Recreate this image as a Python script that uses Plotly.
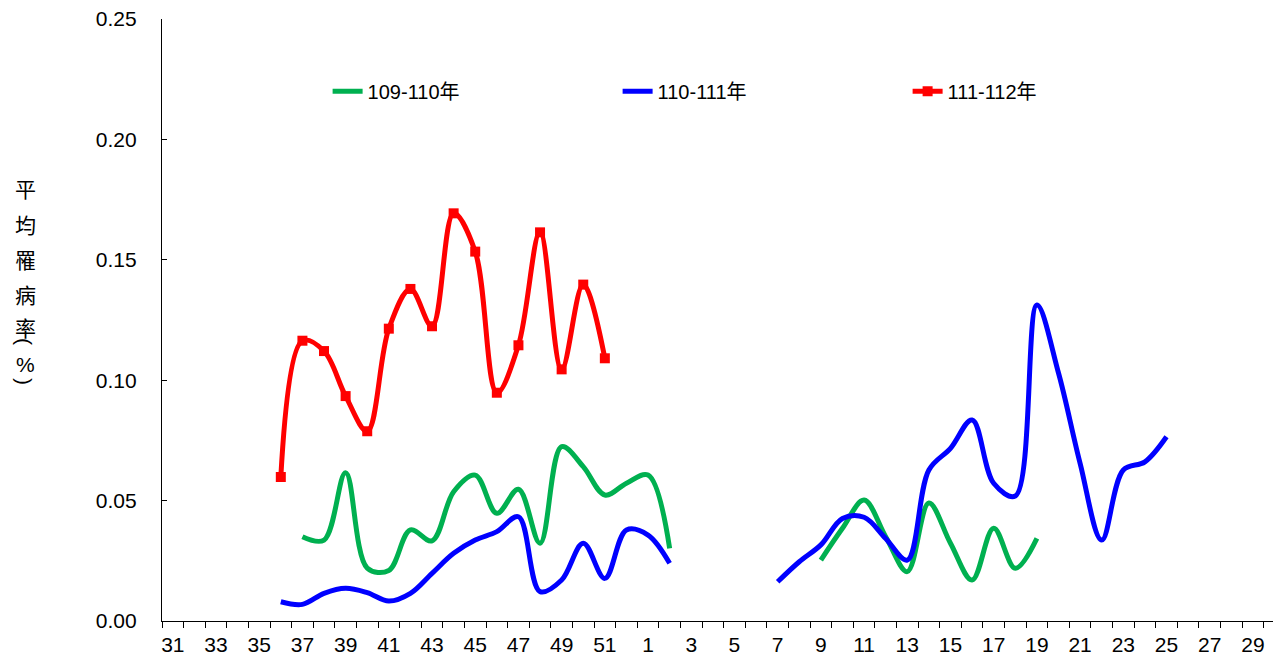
import plotly.graph_objects as go

# Week categories (x axis), from week 31 through week 52, then week 1 through 30
weeks = ["31", "32", "33", "34", "35", "36", "37", "38", "39", "40", "41", "42",
         "43", "44", "45", "46", "47", "48", "49", "50", "51", "52",
         "1", "2", "3", "4", "5", "6", "7", "8", "9", "10", "11", "12", "13",
         "14", "15", "16", "17", "18", "19", "20", "21", "22", "23", "24", "25",
         "26", "27", "28", "29", "30"]

N = None
# 109-110年 (green)
s109 = [N, N, N, N, N, N, 0.035, 0.0336, 0.0616, 0.022, 0.021, 0.0378,
        0.0333, 0.0537, 0.0606, 0.0447, 0.0547, 0.0323, 0.0724, 0.0641, 0.0523, 0.0572,
        0.0606, 0.0302, N, N, N, N, N, N, 0.0253, 0.0385, 0.0502, 0.035, 0.0205,
        0.049, 0.0323, 0.017, 0.0385, 0.0219, 0.0343, N, N, N, N, N, N,
        N, N, N, N, N]
# 110-111年 (blue)
s110 = [N, N, N, N, N, 0.008, 0.0069, 0.0115, 0.0136, 0.0118, 0.0083, 0.0115,
        0.0198, 0.0281, 0.0336, 0.0371, 0.0433, 0.0122, 0.017, 0.0323, 0.0177, 0.0378,
        0.0357, 0.024, N, N, N, N, 0.0163, 0.0246, 0.0316, 0.0426, 0.0431, 0.0343, 0.0253,
        0.0627, 0.0717, 0.0835, 0.0572, 0.0519, 0.1312, 0.103, 0.0655, 0.0336, 0.0627, 0.0661, 0.0765,
        N, N, N, N, N]
# 111-112年 (red)
s111 = [N, N, N, N, N, 0.0598, 0.1164, 0.1121, 0.0934, 0.0788, 0.1214, 0.1379,
        0.1224, 0.1693, 0.1534, 0.0948, 0.1145, 0.1614, 0.1045, 0.1397, 0.1091, N,
        N, N, N, N, N, N, N, N, N, N, N, N, N,
        N, N, N, N, N, N, N, N, N, N, N, N,
        N, N, N, N, N]

names = ["109-110年", "110-111年", "111-112年"]
y_ticks = [0, 0.05, 0.10, 0.15, 0.20, 0.25]
ytitle_chars = ["平", "均", "罹", "病", "率", "(", "%", ")"]

x = list(range(len(weeks)))
FONT = "Liberation Sans, Arial, Noto Sans CJK TC, sans-serif"
CJK = "Noto Sans CJK TC, Noto Sans CJK SC, sans-serif"

fig = go.Figure()
fig.add_trace(go.Scatter(x=x, y=s109, name=names[0], mode="lines",
                         line=dict(color="#00B050", width=5, shape="spline", smoothing=1.0),
                         connectgaps=False))
fig.add_trace(go.Scatter(x=x, y=s110, name=names[1], mode="lines",
                         line=dict(color="#0000FF", width=5, shape="spline", smoothing=1.0),
                         connectgaps=False))
fig.add_trace(go.Scatter(x=x, y=s111, name=names[2], mode="lines+markers",
                         line=dict(color="#FF0000", width=5, shape="spline", smoothing=1.0),
                         marker=dict(symbol="square", size=10, color="#FF0000"),
                         connectgaps=False))

tickvals = x[::2]
ticktext = weeks[::2]

# page body has an 8px margin: figure is drawn at (8, 8)
fig.update_layout(
    width=1273, height=650,
    margin=dict(l=154, r=0, t=11, b=37),
    paper_bgcolor="white", plot_bgcolor="white",
    font=dict(family=FONT, size=21, color="black"),
    showlegend=True,
    legend=dict(orientation="h", x=0.148, y=0.88, xanchor="left", yanchor="middle",
                entrywidth=245, entrywidthmode="pixels",
                font=dict(family=FONT, size=20), bgcolor="rgba(0,0,0,0)"),
    xaxis=dict(range=[-0.5, 51.3], tickmode="array", tickvals=tickvals, ticktext=ticktext,
               ticks="", showline=True, linecolor="black", linewidth=1.3,
               showgrid=False, zeroline=False, ticklabelstandoff=5,
               ticklabeloverflow="allow",
               minor=dict(tickmode="linear", tick0=-0.5, dtick=1, ticks="outside",
                          ticklen=6, tickcolor="black", tickwidth=1.3, showgrid=False),
               tickfont=dict(size=21)),
    yaxis=dict(range=[0, 0.25], tickmode="array", tickvals=y_ticks, tickformat=".2f",
               ticks="inside", ticklen=5, tickcolor="black", tickwidth=1.3,
               showline=True, linecolor="black", linewidth=1.3,
               showgrid=False, zeroline=False, ticklabelstandoff=20,
               ticklabeloverflow="allow",
               tickfont=dict(size=21)),
)

# vertical y-axis title, one character per row (parentheses turned to vertical form)
ypix = [188, 224, 259, 294, 327, 341, 364, 381]
for ch, yp in zip(ytitle_chars, ypix):
    fig.add_annotation(text=ch, xref="paper", yref="paper",
                       x=(25 - 162) / 1119, y=(621 - yp) / 602,
                       xanchor="center", yanchor="middle", showarrow=False,
                       textangle=90 if ch in "()" else 0,
                       font=dict(family=CJK if ch not in "%()" else FONT, size=21, color="black"))

fig.write_html("out.html")
